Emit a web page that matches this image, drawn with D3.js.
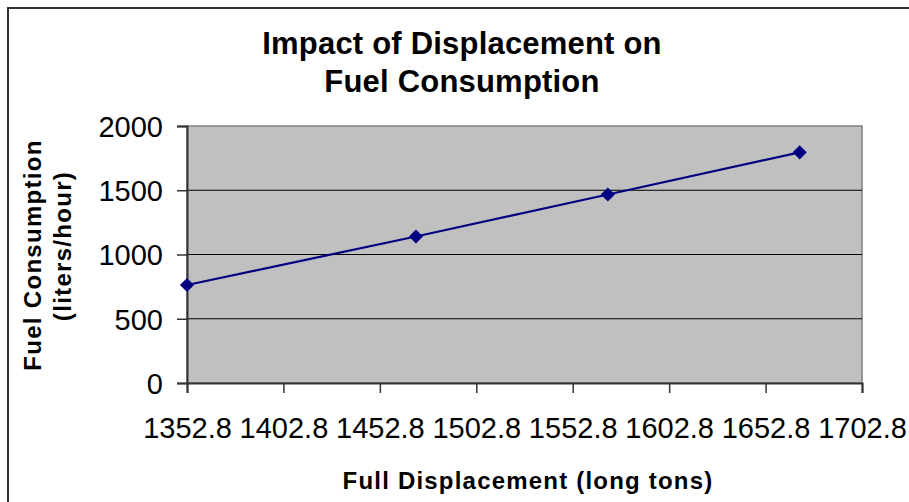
<!DOCTYPE html>
<html>
<head>
<meta charset="utf-8">
<script src="https://cdn.jsdelivr.net/npm/d3@7"></script>
<style>
  body { margin: 0; background: #fff; }
  svg { display: block; font-family: "Liberation Sans", Arial, sans-serif; }
</style>
</head>
<body>
<div id="chart"></div>
<script>
// data
var displacement = [1352.8, 1471.5, 1571.0, 1670.5];
var fuel = [763, 1140, 1467, 1795];
var xTicks = [1352.8, 1402.8, 1452.8, 1502.8, 1552.8, 1602.8, 1652.8, 1702.8];
var yTicks = [0, 500, 1000, 1500, 2000];
var titleLines = ['Impact of Displacement on', 'Fuel Consumption'];
var yTitleLines = ['Fuel Consumption', '(liters/hour)'];
var xTitle = 'Full Displacement (long tons)';

window.onload = function(){

	var W = 909, H = 502;
	var left = 187, right = 862, top = 126, bottom = 383;

	var svg = d3.select('#chart').append('svg').attr('width', W).attr('height', H);

	// outer chart border (runs off right and bottom)
	svg.append('rect')
	.attr('x', 8).attr('y', 8).attr('width', 920).attr('height', 520)
	.attr('fill', 'none').attr('stroke', '#333').attr('stroke-width', 2);

	var x = d3.scaleLinear().domain([1352.8, 1702.8]).range([left, right]);
	var y = d3.scaleLinear().domain([0, 2000]).range([bottom, top]);

	// plot area
	svg.append('rect')
	.attr('x', left).attr('y', top).attr('width', right - left).attr('height', bottom - top)
	.attr('fill', '#c0c0c0').attr('stroke', '#808080').attr('stroke-width', 1.5);

	// gridlines
	svg.selectAll('line.grid').data(yTicks.filter(function(d){ return d > 0 && d < 2000; }))
	.enter().append('line').attr('class', 'grid')
	.attr('x1', left).attr('x2', right)
	.attr('y1', function(d){ return y(d); }).attr('y2', function(d){ return y(d); })
	.attr('stroke', '#000').attr('stroke-width', 1);

	// y axis
	var yAxis = svg.append('g').attr('transform', 'translate(' + left + ',0)')
	.call(d3.axisLeft(y).tickValues(yTicks).tickSize(10).tickPadding(14).tickFormat(d3.format('d')));
	yAxis.select('.domain').attr('stroke', '#333').attr('stroke-width', 2);
	yAxis.selectAll('.tick line').attr('stroke', '#333').attr('stroke-width', 1.5);
	yAxis.selectAll('text').attr('font-size', 29).attr('fill', '#000').attr('dy', '0.36em');

	// x axis
	var xAxis = svg.append('g').attr('transform', 'translate(0,' + bottom + ')')
	.call(d3.axisBottom(x).tickValues(xTicks).tickSize(10).tickPadding(0).tickFormat(d3.format('.1f')));
	xAxis.select('.domain').attr('stroke', '#333').attr('stroke-width', 2);
	xAxis.selectAll('.tick line').attr('stroke', '#333').attr('stroke-width', 1.5);
	xAxis.selectAll('text').attr('font-size', 29).attr('fill', '#000')
	.attr('y', 55).attr('dy', 0);

	// series line
	var pts = displacement.map(function(d, i){ return [d, fuel[i]]; });
	var line = d3.line().x(function(d){ return x(d[0]); }).y(function(d){ return y(d[1]); });
	svg.append('path').datum(pts)
	.attr('d', line).attr('fill', 'none').attr('stroke', '#000080').attr('stroke-width', 2.2);

	// diamond markers
	svg.selectAll('path.marker').data(pts).enter().append('path').attr('class', 'marker')
	.attr('d', d3.symbol().type(d3.symbolSquare).size(100))
	.attr('transform', function(d){ return 'translate(' + x(d[0]) + ',' + y(d[1]) + ') rotate(45)'; })
	.attr('fill', '#000080');

	// title
	svg.selectAll('text.title').data(titleLines).enter().append('text').attr('class', 'title')
	.attr('x', 462).attr('y', function(d, i){ return 54 + i * 38; })
	.attr('text-anchor', 'middle').attr('font-size', 31).attr('font-weight', 'bold')
	.attr('letter-spacing', 0.2)
	.text(function(d){ return d; });

	// y axis title
	var yCenters = [255, 246];
	svg.selectAll('text.ytitle').data(yTitleLines).enter().append('text').attr('class', 'ytitle')
	.attr('transform', function(d, i){ return 'translate(' + (41 + i * 30) + ',' + yCenters[i] + ') rotate(-90)'; })
	.attr('text-anchor', 'middle').attr('font-size', 24).attr('font-weight', 'bold')
	.attr('letter-spacing', 1.3)
	.text(function(d){ return d; });

	// x axis title
	svg.append('text')
	.attr('x', 528).attr('y', 489)
	.attr('text-anchor', 'middle').attr('font-size', 24).attr('font-weight', 'bold')
	.attr('letter-spacing', 1.2)
	.text(xTitle);
}
</script>
</body>
</html>
